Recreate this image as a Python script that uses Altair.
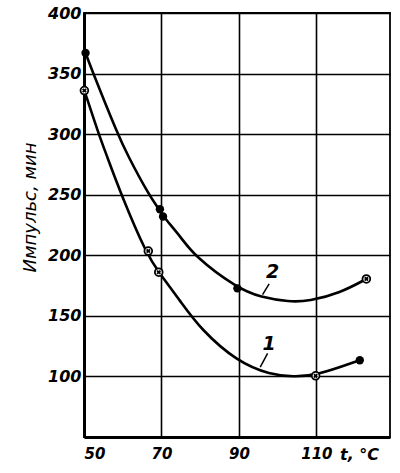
import altair as alt
import pandas as pd

# Curve 1
c1_t = [50.1, 53.8, 55.8, 59.6, 66.3, 69.3, 74.9, 80.1, 89.6, 98.2, 104, 109.8, 121.2]
c1_v = [336, 300, 283, 250, 200, 186, 162, 139, 112, 101.4, 99.8, 100.5, 113.4]
# Curve 2
c2_t = [50.4, 52.4, 58.7, 61.2, 66.7, 69.6, 70.2, 74.9, 78.4, 89.6, 95.6, 103, 108, 116.2, 122.9]
c2_v = [367, 350, 300, 283, 250, 237, 233, 215.6, 199.5, 172.7, 165.3, 161.5, 162, 169, 180.5]

# Measured points
p1_t = [50.1, 66.6, 69.3, 109.8, 121.2]
p1_v = [336, 203.5, 186, 100.5, 113.4]
p1_kind = ["crossed", "crossed", "crossed", "crossed", "filled"]
p2_t = [50.4, 69.6, 70.4, 89.6, 122.9]
p2_v = [367, 238, 232, 172.7, 180.5]
p2_kind = ["filled", "filled", "filled", "filled", "crossed"]

x_ticks = [50, 70, 90, 110]
y_ticks = [100, 150, 200, 250, 300, 350, 400]

# curve labels and leader lines
lab_text = ["1", "2"]
lab_t = [97.8, 98.7]
lab_v = [127, 186]
lead_t = [97.4, 97.8]
lead_v = [119, 176.4]
lead_t2 = [95.5, 96.1]
lead_v2 = [107.6, 167.5]

curves = pd.DataFrame(
    {"t": c1_t + c2_t, "v": c1_v + c2_v,
     "curve": ["1"] * len(c1_t) + ["2"] * len(c2_t)}
)
points = pd.DataFrame(
    {"t": p1_t + p2_t, "v": p1_v + p2_v, "kind": p1_kind + p2_kind}
)
labels = pd.DataFrame({"t": lab_t, "v": lab_v, "text": lab_text})
leaders = pd.DataFrame({"t": lead_t, "v": lead_v, "t2": lead_t2, "v2": lead_v2})

FONT = "DejaVu Sans"

xs = alt.Scale(domain=[50, 129], nice=False, zero=False)
ys = alt.Scale(domain=[50, 400], nice=False, zero=False)

xax = alt.Axis(values=x_ticks, grid=True, title=None, labelFontSize=15,
               labelFont=FONT, labelFontStyle="italic", labelFontWeight="bold",
               labelColor="black", labelPadding=9, ticks=False,
               domainColor="black", domainWidth=3, gridColor="black",
               gridWidth=1.6, gridOpacity=1, labelFlush=True)
yax = alt.Axis(values=y_ticks, grid=True, title="Импульс, мин",
               titleFontSize=18, titleFont=FONT, titleFontStyle="italic",
               titleFontWeight="normal", titleColor="black", titlePadding=8,
               labelFontSize=16, labelFont=FONT, labelFontStyle="italic",
               labelFontWeight="bold", labelColor="black", labelPadding=3,
               ticks=False, domainColor="black", domainWidth=3,
               gridColor="black", gridWidth=1.6, gridOpacity=1, titleY=194,
               labelFlush=False)

base_x = alt.X("t:Q", scale=xs, axis=xax)
base_y = alt.Y("v:Q", scale=ys, axis=yax)

lines = alt.Chart(curves).mark_line(
    color="black", strokeWidth=2.6, interpolate="basis"
).encode(x=base_x, y=base_y, detail="curve:N")

filled = alt.Chart(points).transform_filter(
    alt.datum.kind == "filled"
).mark_point(shape="circle", filled=True, color="black", size=70, opacity=1).encode(
    x=alt.X("t:Q", scale=xs), y=alt.Y("v:Q", scale=ys)
)
crossed_c = alt.Chart(points).transform_filter(
    alt.datum.kind == "crossed"
).mark_point(shape="circle", filled=True, fill="white", stroke="black",
             strokeWidth=1.8, size=60, opacity=1).encode(
    x=alt.X("t:Q", scale=xs), y=alt.Y("v:Q", scale=ys)
)
crossed_x = alt.Chart(points).transform_filter(
    alt.datum.kind == "crossed"
).mark_point(shape="cross", angle=45, filled=True, color="black", size=22,
             opacity=1).encode(
    x=alt.X("t:Q", scale=xs), y=alt.Y("v:Q", scale=ys)
)

lab = alt.Chart(labels).mark_text(
    font=FONT, fontSize=19, fontStyle="italic", fontWeight="bold", color="black"
).encode(x=alt.X("t:Q", scale=xs), y=alt.Y("v:Q", scale=ys), text="text:N")

lead = alt.Chart(leaders).mark_rule(color="black", strokeWidth=1.5).encode(
    x=alt.X("t:Q", scale=xs), y=alt.Y("v:Q", scale=ys),
    x2="t2:Q", y2="v2:Q"
)

tlabel = alt.Chart(pd.DataFrame({"s": ["t, °C"]})).mark_text(
    font=FONT, fontSize=16, fontStyle="italic", fontWeight="bold",
    color="black", align="left", baseline="top"
).encode(x=alt.value(256), y=alt.value(434), text="s:N")

chart = alt.layer(lines, filled, crossed_c, crossed_x, lead, lab, tlabel).properties(
    width=306, height=424,
    autosize=alt.AutoSizeParams(type="none"),
    padding={"left": 84, "top": 13, "right": 10, "bottom": 36},
    background="white",
).configure_view(stroke="black", strokeWidth=1.8)

chart.save("out.html", embed_options={"renderer": "svg", "actions": False})
